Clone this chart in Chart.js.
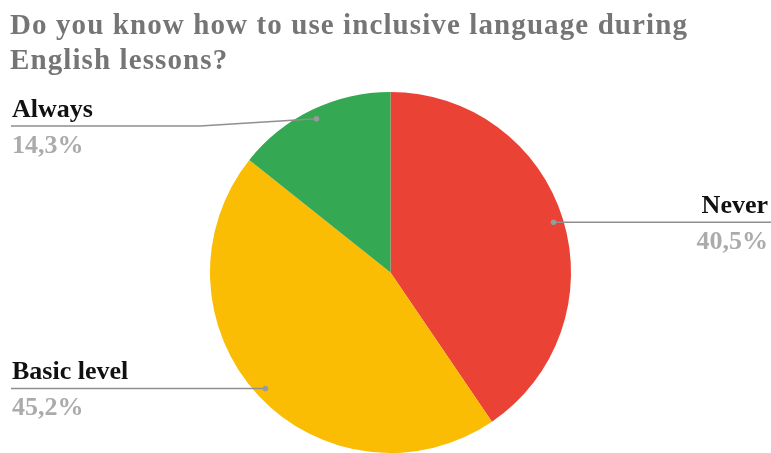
<!DOCTYPE html>
<html>
<head>
<meta charset="utf-8">
<script src="https://cdn.jsdelivr.net/npm/chart.js@4"></script>
<style>
  html, body { margin: 0; padding: 0; background: #fff; }
  #wrap { width: 771px; height: 453px; }
</style>
</head>
<body>
<div id="wrap"><canvas id="chart" width="771" height="453"></canvas></div>
<script>
// data
const titleLines = ['Do you know how to use inclusive language during', 'English lessons?'];
const labels = ['Never', 'Basic level', 'Always'];
const values = [40.5, 45.2, 14.3];
const percentText = ['40,5%', '45,2%', '14,3%'];
const colors = ['#EA4335', '#FBBC04', '#34A853'];

const FONT = '"Liberation Serif", "DejaVu Serif", serif';

// the title in the export is set a bit wider than Liberation Serif
const titleSpacing = {
  id: 'titleSpacing',
  beforeDraw(chart) { chart.ctx.letterSpacing = '1.1px'; },
  afterDatasetsDraw(chart) { chart.ctx.letterSpacing = '0px'; }
};

// outside labels with leader lines, like the Sheets export
const outsideLabels = {
  id: 'outsideLabels',
  afterDraw(chart) {
    const ctx = chart.ctx;
    const meta = chart.getDatasetMeta(0);
    const W = chart.width;
    ctx.save();
    ctx.letterSpacing = '0px';
    meta.data.forEach((arc, i) => {
      const mid = (arc.startAngle + arc.endAngle) / 2;
      const r = arc.outerRadius * 0.945;
      const dx = arc.x + Math.cos(mid) * r;
      const dy = arc.y + Math.sin(mid) * r;
      const right = Math.cos(mid) > 0;
      const lineY = Math.max(dy, 126);

      ctx.strokeStyle = '#8f8f8f';
      ctx.lineWidth = 1.5;
      ctx.beginPath();
      if (right) {
        ctx.moveTo(dx, dy);
        ctx.lineTo(W, lineY);
      } else {
        ctx.moveTo(11, lineY);
        if (Math.abs(lineY - dy) > 1) ctx.lineTo(200, lineY);
        ctx.lineTo(dx, dy);
      }
      ctx.stroke();

      ctx.fillStyle = '#9a9a9a';
      ctx.beginPath();
      ctx.arc(dx, dy, 2.8, 0, Math.PI * 2);
      ctx.fill();

      ctx.textAlign = right ? 'right' : 'left';
      ctx.textBaseline = 'alphabetic';
      const tx = right ? W - 3 : 12;
      ctx.font = 'bold 26px ' + FONT;
      ctx.fillStyle = '#111';
      ctx.fillText(labels[i], tx, lineY - 9.5);
      ctx.fillStyle = '#ababab';
      ctx.fillText(percentText[i], tx, lineY + 27);
    });
    ctx.restore();
  }
};

new Chart(document.getElementById('chart'), {
  type: 'pie',
  data: {
    labels: labels,
    datasets: [{
      data: values,
      backgroundColor: colors,
      borderWidth: 0
    }]
  },
  options: {
    responsive: false,
    animation: false,
    layout: { padding: { left: 10, top: 0, right: 0, bottom: 0 } },
    plugins: {
      legend: { display: false },
      tooltip: { enabled: false },
      title: {
        display: true,
        text: titleLines,
        align: 'start',
        color: '#757575',
        font: { family: FONT, size: 29, weight: 'bold', lineHeight: 1.22 },
        padding: { top: 8.4, bottom: 12.8 }
      }
    }
  },
  plugins: [titleSpacing, outsideLabels]
});
</script>
</body>
</html>
